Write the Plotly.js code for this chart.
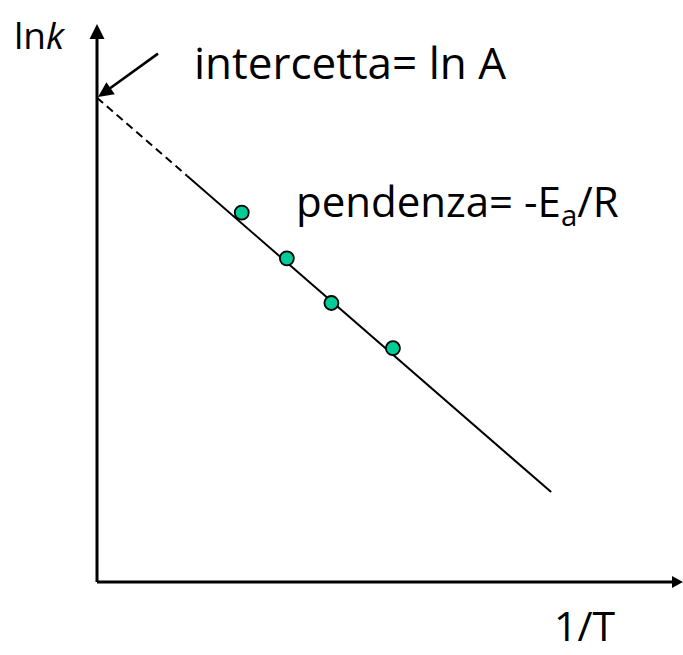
<!DOCTYPE html>
<html>
<head>
<meta charset="utf-8">
<script src="https://cdn.plot.ly/plotly-3.0.1.min.js"></script>
<style>
  html, body { margin: 0; padding: 0; background: #fff; }
  #chart { width: 683px; height: 655px; }
</style>
</head>
<body>
<div id="chart"></div>
<script>
// Arrhenius plot: ln k against 1/T (arbitrary units)
const invT = [0.247, 0.324, 0.400, 0.505];   // 1/T
const lnK  = [0.662, 0.580, 0.500, 0.419];   // ln k

// straight-line fit: ln k = ln A + slope * (1/T)
const lnA = 0.868;        // intercept
const slope = -0.912;     // -Ea/R
const extrapX = [0, 0.154];      // dashed extrapolation to 1/T = 0
const fitX = [0.154, 0.775];     // solid fitted segment

const lineY = xs => xs.map(x => lnA + slope * x);

const FONT = '"Comic Sans MS", "Open Sans", sans-serif';

const traces = [
  {
    x: extrapX, y: lineY(extrapX), mode: 'lines', type: 'scatter',
    line: { color: '#000', width: 2, dash: '8px,5px' }, hoverinfo: 'skip'
  },
  {
    x: fitX, y: lineY(fitX), mode: 'lines', type: 'scatter',
    line: { color: '#000', width: 2 }, hoverinfo: 'skip'
  },
  {
    x: invT, y: lnK, mode: 'markers', type: 'scatter',
    marker: { size: 14, color: '#00CC99', line: { color: '#000', width: 1.8 } }
  }
];

const xRange = [-97 / 586, 1];
const yRange = [-73 / 558, 582 / 558];

// axis arrows and the pointer to the intercept, sized in pixels
const ink = { color: '#000', width: 0 };
const shapes = [
  // y axis
  { type: 'line', xref: 'x', yref: 'y', x0: 0, y0: 0, x1: 0, y1: 0.98,
    line: { color: '#000', width: 3 } },
  { type: 'path', xref: 'x', yref: 'y', xsizemode: 'pixel', ysizemode: 'pixel',
    xanchor: 0, yanchor: 1.0, path: 'M0,0 L-7.5,-15 L7.5,-15 Z',
    fillcolor: '#000', line: ink },
  // x axis
  { type: 'line', xref: 'x', yref: 'y', x0: 0, y0: 0, x1: 0.985, y1: 0,
    line: { color: '#000', width: 3 } },
  { type: 'path', xref: 'x', yref: 'y', xsizemode: 'pixel', ysizemode: 'pixel',
    xanchor: 1.0, yanchor: 0, path: 'M0,0 L-11,6 L-11,-6 Z',
    fillcolor: '#000', line: ink },
  // pointer from the label down to ln A on the y axis
  { type: 'line', xref: 'x', yref: 'y', xsizemode: 'pixel', ysizemode: 'pixel',
    xanchor: 0, yanchor: lnA, x0: 12, y0: 8.7, x1: 61, y1: 44,
    line: { color: '#000', width: 2.6 } },
  { type: 'path', xref: 'x', yref: 'y', xsizemode: 'pixel', ysizemode: 'pixel',
    xanchor: 0, yanchor: lnA, path: 'M1,0.7 L9.4,15.5 L17.8,3.5 Z',
    fillcolor: '#000', line: ink }
];

const annotations = [
  { x: -0.145, y: 1.031, xref: 'x', yref: 'y', xanchor: 'left', yanchor: 'top',
    text: 'ln<i>k</i>', showarrow: false, font: { family: FONT, size: 37, color: '#000' } },
  { x: 0.162, y: 0.989, xref: 'x', yref: 'y', xanchor: 'left', yanchor: 'top',
    text: 'intercetta= ln A', showarrow: false, font: { family: FONT, size: 44, color: '#000' } },
  { x: 0.336, y: 0.738, xref: 'x', yref: 'y', xanchor: 'left', yanchor: 'top',
    text: 'pendenza= -E<sub>a</sub>/R', showarrow: false, font: { family: FONT, size: 42, color: '#000' } },
  { x: 0.777, y: -73 / 558, xref: 'x', yref: 'y', xanchor: 'left', yanchor: 'bottom',
    text: '1/T', showarrow: false, font: { family: FONT, size: 41, color: '#000' } }
];

const layout = {
  width: 683, height: 655,
  margin: { l: 0, r: 0, t: 0, b: 0, pad: 0 },
  paper_bgcolor: '#fff', plot_bgcolor: '#fff',
  showlegend: false,
  xaxis: { range: xRange, visible: false, fixedrange: true },
  yaxis: { range: yRange, visible: false, fixedrange: true },
  shapes: shapes,
  annotations: annotations
};

Plotly.newPlot('chart', traces, layout, { staticPlot: true, displayModeBar: false });
</script>
</body>
</html>
